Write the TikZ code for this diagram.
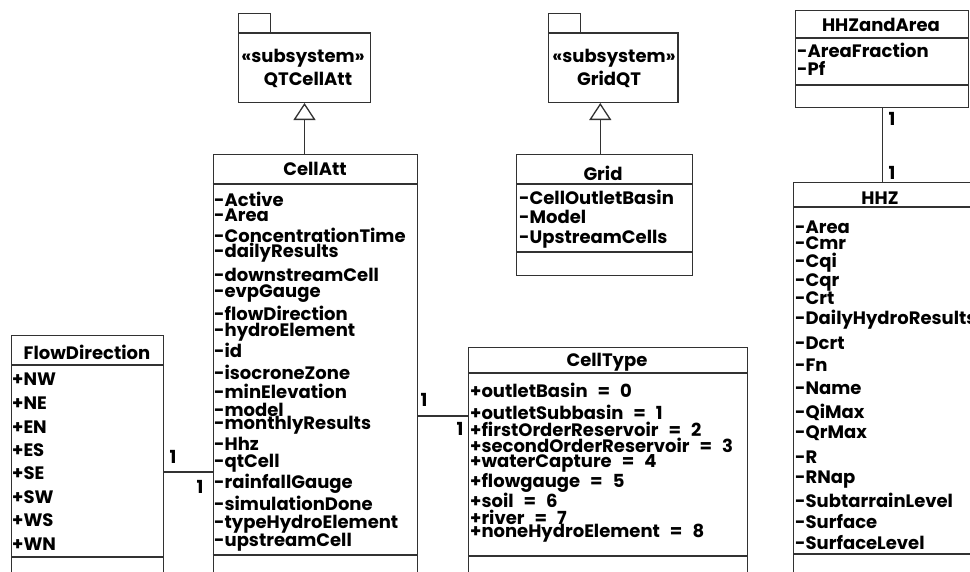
\documentclass[tikz,border=0pt]{standalone}
\usepackage{fontspec}
\setmainfont{Poppins}
\usetikzlibrary{arrows.meta}
\definecolor{linec}{RGB}{50,50,50}
\newcommand\umlfont{\fontsize{18}{18}\selectfont\bfseries}
\begin{document}
\begin{tikzpicture}[x=1pt,y=-1pt,
  box/.style={draw=linec, line width=1.3pt, inner sep=0pt, anchor=north west},
  txt/.style={inner sep=0pt, anchor=west, font=\umlfont},
  cttxt/.style={inner sep=0pt, anchor=west, font={\umlfont\spaceskip=10pt\relax}},
  ttl/.style={inner sep=0pt, font=\umlfont},
  gen/.style={draw=linec, line width=1.3pt, -{Triangle[open, length=17pt, width=22pt]}},
  assoc/.style={draw=linec, line width=1.3pt}]
\useasboundingbox (0,0) rectangle (970,571);
\clip (0,0) rectangle (970,571);
% ---------- package QTCellAtt
\node[box, minimum width=32.3pt, minimum height=19.6pt] (qttab) at (237.7,12.7) {};
\node[box, minimum width=132.3pt, minimum height=69.4pt] (qtpkg) at (237.7,32.3) {};
\node[ttl] (qts) at (303,58) {«subsystem»};
\node[ttl] (qtn) at (308,80) {QTCellAtt};
% ---------- package GridQT
\node[box, minimum width=32.3pt, minimum height=19.6pt] (gtab) at (547.7,12.7) {};
\node[box, minimum width=129.6pt, minimum height=69.4pt] (gpkg) at (547.7,32.3) {};
\node[ttl] (gs) at (614,58) {«subsystem»};
\node[ttl] (gn) at (609,79) {GridQT};
% ---------- CellAtt
\node[box, minimum width=204pt, minimum height=446pt] (cellatt) at (212.7,154) {};
\draw[assoc] (cellatt.west |- 0,184) -- (cellatt.east |- 0,184);
\draw[assoc] (cellatt.west |- 0,555) -- (cellatt.east |- 0,555);
\node[ttl] (catitle) at (315,169) {CellAtt};
\foreach \y/\t [count=\i] in {199/-Active,215/-Area,235/-ConcentrationTime,253/-dailyResults,
  275/-downstreamCell,294/-evpGauge,313/-flowDirection,332/-hydroElement,350/-id,
  372/-isocroneZone,391/-minElevation,410/-model,425/-monthlyResults,444/-Hhz,
  463/-qtCell,484/-rainfallGauge,503/-simulationDone,524/-typeHydroElement,542/-upstreamCell}
  \node[txt] (ca\i) at (214,\y) {\t};
% ---------- FlowDirection
\node[box, minimum width=152pt, minimum height=265pt] (flowdir) at (11,335) {};
\draw[assoc] (flowdir.west |- 0,365) -- (flowdir.east |- 0,365);
\draw[assoc] (flowdir.west |- 0,557) -- (flowdir.east |- 0,557);
\node[ttl] (fdtitle) at (87,352) {FlowDirection};
\foreach \y/\t [count=\i] in {379/+NW,403/+NE,427/+EN,450/+ES,473/+SE,497/+SW,520/+WS,544/+WN}
  \node[txt] (fd\i) at (12,\y) {\t};
% ---------- CellType
\node[box, minimum width=279pt, minimum height=253pt] (celltype) at (468,347) {};
\draw[assoc] (celltype.west |- 0,373) -- (celltype.east |- 0,373);
\draw[assoc] (celltype.west |- 0,556) -- (celltype.east |- 0,556);
\node[ttl] (cttitle) at (607,362) {CellType};
\foreach \y/\t [count=\i] in {390/+outletBasin = 0,412/+outletSubbasin = 1,429/+firstOrderReservoir = 2,
  445/+secondOrderReservoir = 3,463/+waterCapture = 4,483/+flowgauge = 5,500/+soil = 6,
  517/+river = 7,533/+noneHydroElement = 8}
  \node[cttxt] (ct\i) at (470,\y) {\t};
% ---------- Grid
\node[box, minimum width=176pt, minimum height=121pt] (grid) at (516,154) {};
\draw[assoc] (grid.west |- 0,184) -- (grid.east |- 0,184);
\draw[assoc] (grid.west |- 0,252) -- (grid.east |- 0,252);
\node[ttl] (grtitle) at (603,173) {Grid};
\foreach \y/\t [count=\i] in {197/-CellOutletBasin,217/-Model,239/-UpstreamCells}
  \node[txt] (gr\i) at (519,\y) {\t};
% ---------- HHZandArea
\node[box, minimum width=173pt, minimum height=97pt] (hhzarea) at (795,10) {};
\draw[assoc] (hhzarea.west |- 0,38) -- (hhzarea.east |- 0,38);
\draw[assoc] (hhzarea.west |- 0,85) -- (hhzarea.east |- 0,85);
\node[ttl] (hatitle) at (881,25) {HHZandArea};
\node[txt] (ha1) at (797,50) {-AreaFraction};
\node[txt] (ha2) at (797,68) {-Pf};
% ---------- HHZ
\node[box, minimum width=197pt, minimum height=418pt] (hhz) at (793,182) {};
\draw[assoc] (hhz.west |- 0,207) -- (hhz.east |- 0,207);
\draw[assoc] (hhz.west |- 0,554) -- (hhz.east |- 0,554);
\node[ttl] (hztitle) at (880,198) {HHZ};
\foreach \y/\t [count=\i] in {227/-Area,243/-Cmr,263/-Cqi,282/-Cqr,298/-Crt,320/-DailyHydroResults,
  343/-Dcrt,365/-Fn,388/-Name,412/-QiMax,433/-QrMax,457/-R,480/-RNap,500/-SubtarrainLevel,
  522/-Surface,543/-SurfaceLevel}
  \node[txt] (hz\i) at (795,\y) {\t};
% ---------- connectors
\coordinate (gx) at (600.3,0);
\draw[gen] (cellatt.north -| qtpkg.south) -- (qtpkg.south);
\draw[gen] (grid.north -| gx) -- (gpkg.south -| gx);
\draw[assoc] (cellatt.east |- 0,416) -- (celltype.west |- 0,416);
\draw[assoc] (flowdir.east |- 0,472) -- (cellatt.west |- 0,472);
\draw[assoc] (hhzarea.south) -- (hhz.north -| hhzarea.south);
% ---------- multiplicities
\node[ttl] (m1) at (424,400) {1};
\node[ttl] (m2) at (460,429) {1};
\node[ttl] (m3) at (173,457) {1};
\node[ttl] (m4) at (200,487) {1};
\node[ttl] (m5) at (892,119) {1};
\node[ttl] (m6) at (892,173) {1};
\end{tikzpicture}
\end{document}
